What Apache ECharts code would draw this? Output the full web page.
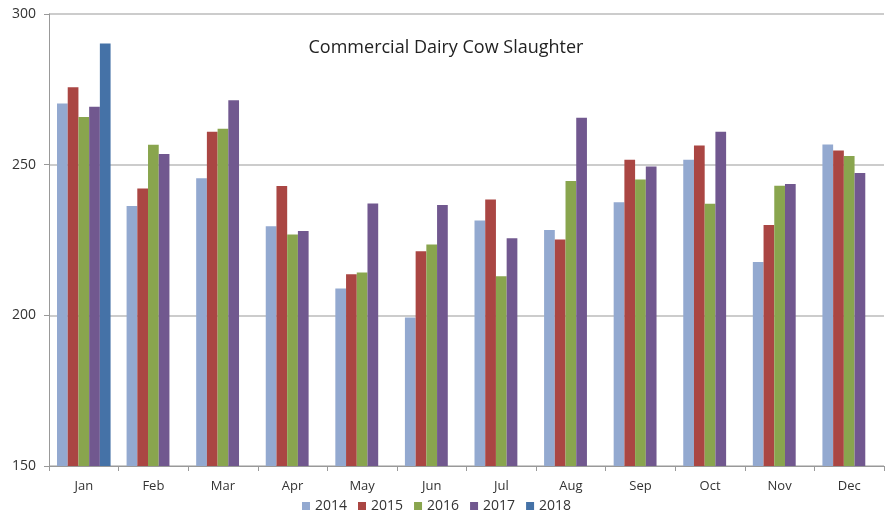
<!DOCTYPE html>
<html>
<head>
<meta charset="utf-8">
<script src="https://cdn.jsdelivr.net/npm/echarts@6/dist/echarts.min.js"></script>
<style>
html, body { margin: 0; padding: 0; background: #fff; }
#chart { width: 892px; height: 514px; }
</style>
</head>
<body>
<div id="chart"></div>
<script>
var months = ['Jan','Feb','Mar','Apr','May','Jun','Jul','Aug','Sep','Oct','Nov','Dec'];
var years = ['2014','2015','2016','2017','2018'];
var s2014 = [270.3, 236.3, 245.5, 229.6, 208.9, 199.3, 231.5, 228.3, 237.5, 251.6, 217.7, 256.7];
var s2015 = [275.7, 242.1, 260.9, 242.9, 213.6, 221.3, 238.4, 225.2, 251.6, 256.4, 230.0, 254.7];
var s2016 = [265.8, 256.6, 261.9, 226.8, 214.2, 223.5, 213.0, 244.6, 245.1, 237.0, 243.0, 252.9];
var s2017 = [269.2, 253.5, 271.4, 228.0, 237.1, 236.6, 225.6, 265.6, 249.4, 260.9, 243.6, 247.2];
var s2018 = [290.2, null, null, null, null, null, null, null, null, null, null, null];
var colors = ['#93A9D0', '#AA4643', '#89A54E', '#71588F', '#4572A7'];

var chart = echarts.init(document.getElementById('chart'));
var allData = [s2014, s2015, s2016, s2017, s2018];
var series = years.map(function (y, i) {
    return {
        name: y,
        type: 'bar',
        data: allData[i],
        barGap: '0%',
        barCategoryGap: '23%',
        itemStyle: { color: colors[i] }
    };
});

var option = {
    animation: false,
    color: colors,
    title: {
        text: 'Commercial Dairy Cow Slaughter',
        left: 'center',
        top: 34,
        textStyle: { fontFamily: 'Open Sans', fontSize: 18, fontWeight: 'normal', color: '#222' }
    },
    legend: {
        top: 494,
        left: 297,
        itemWidth: 8,
        itemHeight: 8,
        itemGap: 11,
        icon: 'rect',
        textStyle: { fontFamily: 'Open Sans', fontSize: 14, color: '#333' },
        data: years
    },
    grid: { left: 49, right: 8, top: 14, bottom: 48 },
    xAxis: {
        type: 'category',
        data: months,
        axisLine: { lineStyle: { color: '#999' } },
        axisTick: { show: true, length: 5, lineStyle: { color: '#999' } },
        axisLabel: { fontFamily: 'Open Sans', fontSize: 13, color: '#333', margin: 14 }
    },
    yAxis: {
        type: 'value',
        min: 150,
        max: 300,
        interval: 50,
        axisLine: { show: true, lineStyle: { color: '#999' } },
        axisTick: { show: true, length: 5, lineStyle: { color: '#999' } },
        axisLabel: { fontFamily: 'Open Sans', fontSize: 14, color: '#333', margin: 13 },
        splitLine: { lineStyle: { color: '#bbb', width: 1.5 } }
    },
    series: series
};
chart.setOption(option);
</script>
</body>
</html>
